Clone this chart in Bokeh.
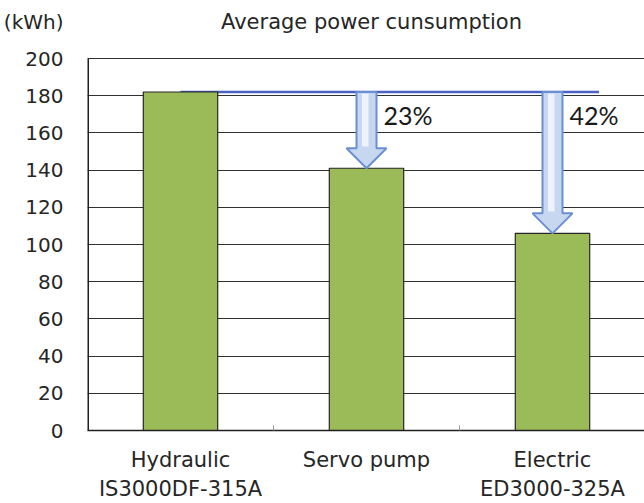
from bokeh.plotting import figure
from bokeh.models import Range1d, LinearAxis, FixedTicker, Grid
from bokeh.embed import file_html
from bokeh.resources import INLINE
from bokeh.core.properties import value

# ---- data ----
categories = ["Hydraulic", "Servo pump", "Electric"]
models = ["IS3000DF-315A", "", "ED3000-325A"]
power_kwh = [182, 141, 106]
y_ticks = [0, 20, 40, 60, 80, 100, 120, 140, 160, 180, 200]
y_max = 200
title_text = "Average power cunsumption"
unit_text = "(kWh)"

FONT = "DejaVu Sans"
TXT = "#262626"

xs = list(range(len(categories)))
base = power_kwh[0]
reductions = [round((1 - v / base) * 100) for v in power_kwh]

W, H = 644, 503
left_b, bottom_b = 87, 73
frame_w = W - left_b
frame_h = H - bottom_b
px_per_x = 186.0              # pixels per category
px_per_y = 372.0 / y_max      # pixels per kWh
x_lo = -0.5
x_hi = x_lo + frame_w / px_per_x
y_hi = frame_h / px_per_y     # room above 200 for the heading row
head_y = y_max + 37 / px_per_y  # heading row (unit + title)

p = figure(width=W, height=H, output_backend="svg", toolbar_location=None,
           x_range=Range1d(x_lo, x_hi), y_range=Range1d(0, y_hi),
           min_border_left=left_b, min_border_right=0, min_border_top=0,
           min_border_bottom=bottom_b, x_axis_type=None, y_axis_type=None)
p.outline_line_color = None
p.background_fill_color = "white"
p.border_fill_color = "white"

# y axis (the unit is shown as the top label of the axis)
yax = LinearAxis(ticker=FixedTicker(ticks=y_ticks + [head_y], minor_ticks=[]))
yax.major_label_overrides = {head_y: unit_text}
yax.major_tick_out = 0
yax.major_tick_in = 0
yax.minor_tick_out = 0
yax.major_label_standoff = 24
yax.major_label_text_font = FONT
yax.major_label_text_font_size = "20px"
yax.major_label_text_color = TXT
yax.axis_line_color = None
p.add_layout(yax, "left")

# x axis: category names
xax = LinearAxis(ticker=FixedTicker(ticks=xs, minor_ticks=[0.5, 1.5]))
xax.major_label_overrides = {i: c for i, c in zip(xs, categories)}
xax.major_tick_out = 0
xax.major_tick_in = 0
xax.minor_tick_out = 0
xax.minor_tick_in = 5
xax.minor_tick_line_color = "#999999"
xax.major_label_standoff = 17
xax.major_label_text_font = FONT
xax.major_label_text_font_size = "21px"
xax.major_label_text_color = TXT
xax.axis_line_color = "#202020"
xax.axis_line_width = 1.5
p.add_layout(xax, "below")

# x axis: model names
xax2 = LinearAxis(ticker=FixedTicker(ticks=xs, minor_ticks=[]))
xax2.major_label_overrides = {i: m for i, m in zip(xs, models)}
xax2.major_tick_out = 0
xax2.major_tick_in = 0
xax2.minor_tick_out = 0
xax2.major_label_standoff = 2
xax2.major_label_text_font = FONT
xax2.major_label_text_font_size = "21px"
xax2.major_label_text_color = TXT
xax2.axis_line_color = None
p.add_layout(xax2, "below")

# horizontal grid (only up to 200; the 200 line is the top border of the plot area)
grid = Grid(dimension=1, ticker=FixedTicker(ticks=y_ticks),
            grid_line_color="#303030", grid_line_width=1.2)
p.add_layout(grid, "center")

# left border of the plot area, from 0 to 200
p.segment(x0=[x_lo], y0=[0], x1=[x_lo], y1=[y_max], line_color="#202020", line_width=3)

# heading
p.text(x=[xs[1]], y=[head_y], text=[title_text], x_offset=5,
       text_align="center", text_baseline="middle",
       text_font=value(FONT), text_font_size="21px", text_color=TXT)

# baseline reference line
p.line(x=[xs[0], xs[-1] + 0.25], y=[base, base], line_color="#4a62c4", line_width=2.5)

# bars
p.vbar(x=xs, top=power_kwh, bottom=0, width=0.4, fill_color="#9bbb59",
       line_color="#262626", line_width=1.2)

# arrows
shaft = 10 / px_per_x
head = 20 / px_per_x
head_len = 20 / px_per_y
arr_x, arr_y = [], []
for x, v in zip(xs[1:], power_kwh[1:]):
    hs = v + head_len
    arr_x.append([x - shaft, x + shaft, x + shaft, x + head, x, x - head, x - shaft])
    arr_y.append([base, base, hs, hs, v, hs, hs])
p.patches(xs=arr_x, ys=arr_y, fill_color="#c7d7f0", line_color="#6a8fd2", line_width=2)
# lighter center strip for a gradient feel
inner_x, inner_y = [], []
for x, v in zip(xs[1:], power_kwh[1:]):
    hs = v + head_len
    inner_x.append([x - shaft * 0.45, x + shaft * 0.2, x + shaft * 0.2, x - shaft * 0.45])
    inner_y.append([base - 1, base - 1, hs + 1, hs + 1])
p.patches(xs=inner_x, ys=inner_y, fill_color="#eef3fb", line_color=None)

# percent labels
p.text(x=xs[1:], y=[base] * 2, text=[f"{r}%" for r in reductions[1:]],
       x_offset=17, y_offset=8, text_baseline="top", text_align="left",
       text_font=value("Lato"), text_font_size="25px", text_color="#1a1a1a")

open("out.html", "w").write(file_html(p, INLINE))
